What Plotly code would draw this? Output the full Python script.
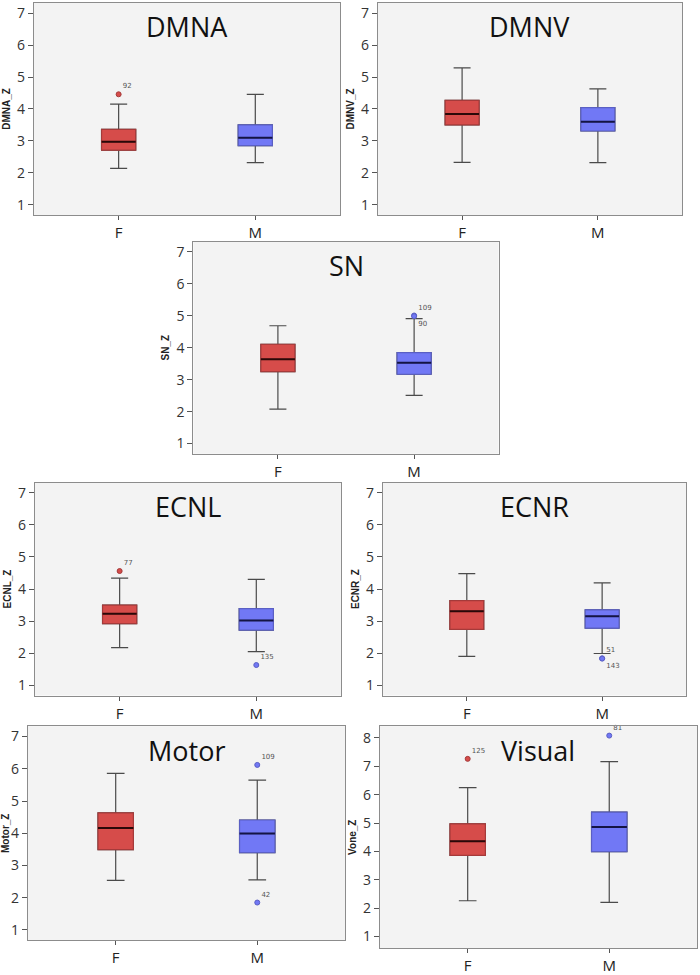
import plotly.graph_objects as go

# ---------------- data ----------------
panels = ["DMNA", "DMNV", "SN", "ECNL", "ECNR", "Motor", "Visual"]
y_titles = ["DMNA_Z", "DMNV_Z", "SN_Z", "ECNL_Z", "ECNR_Z", "Motor_Z", "Vone_Z"]
categories = ["F", "M"]

# box statistics per panel (order of `panels`)
lower_F  = [2.14, 2.33, 2.08, 2.17, 1.90, 2.54, 2.26]
q1_F     = [2.71, 3.50, 3.25, 2.92, 2.74, 3.49, 3.86]
median_F = [2.97, 3.84, 3.64, 3.23, 3.31, 4.16, 4.36]
q3_F     = [3.36, 4.27, 4.11, 3.50, 3.64, 4.63, 4.97]
upper_F  = [4.15, 5.29, 4.69, 4.34, 4.48, 5.86, 6.25]

lower_M  = [2.32, 2.32, 2.51, 2.05, 1.99, 2.55, 2.20]
q1_M     = [2.85, 3.31, 3.17, 2.72, 2.78, 3.40, 3.99]
median_M = [3.10, 3.60, 3.53, 3.02, 3.15, 3.99, 4.86]
q3_M     = [3.50, 4.04, 3.85, 3.39, 3.35, 4.41, 5.38]
upper_M  = [4.46, 4.63, 4.91, 4.30, 4.19, 5.65, 7.16]

# outliers: panel index, group, value, case label
out_panel = [0, 2, 2, 3, 3, 4, 4, 5, 5, 6, 6]
out_group = ["F", "M", "M", "F", "M", "M", "M", "M", "M", "F", "M"]
out_value = [4.46, 5.01, 4.99, 4.56, 1.63, 1.84, 1.83, 6.12, 1.85, 7.26, 8.08]
out_label = ["92", "109", "90", "77", "135", "51", "143", "109", "42", "125", "81"]

y_ranges = [[0.68, 7.32]] * 6 + [[0.59, 8.41]]
y_ticks = [list(range(1, 8))] * 6 + [list(range(1, 9))]

# panel rectangles in pixels (left, right, top, bottom)
W, H = 700, 975
boxes_px = [
    (32, 339, 3, 217),
    (377, 682, 3, 217),
    (192, 498, 244, 458),
    (33, 340, 487, 702),
    (382, 686, 487, 702),
    (26, 344, 733, 949),
    (379, 697, 733, 957),
]

# ---------------- style ----------------
FILL = {"F": "#d64c4a", "M": "#7178f5"}
EDGE = {"F": "#a53a3a", "M": "#5a5fc4"}
MED = {"F": "#2a0808", "M": "#141444"}
WHISK = "#4a4a4a"
FONT = "Open Sans"

fig = go.Figure()

stats = {
    "F": (lower_F, q1_F, median_F, q3_F, upper_F),
    "M": (lower_M, q1_M, median_M, q3_M, upper_M),
}

for i, name in enumerate(panels):
    xa = "x" if i == 0 else f"x{i+1}"
    ya = "y" if i == 0 else f"y{i+1}"
    for g in categories:
        lo, q1, md, q3, hi = (s[i] for s in stats[g])
        common = dict(x=[g], xaxis=xa, yaxis=ya, width=0.25, showlegend=False,
                      hoverinfo="skip", boxpoints=False)
        # whiskers
        fig.add_trace(go.Box(q1=[q1], median=[md], q3=[q3], lowerfence=[lo], upperfence=[hi],
                             fillcolor=FILL[g], line=dict(color=WHISK, width=1.2),
                             whiskerwidth=0.5, **common))
        # box body with coloured border
        fig.add_trace(go.Box(q1=[q1], median=[md], q3=[q3], lowerfence=[q1], upperfence=[q3],
                             fillcolor=FILL[g], line=dict(color=EDGE[g], width=1.2),
                             whiskerwidth=0, **common))
        # dark median line
        fig.add_trace(go.Box(q1=[md], median=[md], q3=[md], lowerfence=[md], upperfence=[md],
                             fillcolor="rgba(0,0,0,0)", line=dict(color=MED[g], width=2),
                             whiskerwidth=0, **common))

# outliers
for p, g, v, lab in zip(out_panel, out_group, out_value, out_label):
    xa = "x" if p == 0 else f"x{p+1}"
    ya = "y" if p == 0 else f"y{p+1}"
    # second of a stacked pair goes below
    pos = "top right"
    if lab in ("90", "143"):
        pos = "bottom right"
    fig.add_trace(go.Scatter(
        x=[g], y=[v], xaxis=xa, yaxis=ya, mode="markers+text",
        marker=dict(size=5, color=FILL[g], line=dict(color=EDGE[g], width=1)),
        text=[lab], textposition=pos,
        textfont=dict(size=7, color="#555555", family="DejaVu Sans"),
        showlegend=False, hoverinfo="skip", cliponaxis=False))

layout = dict(
    width=W, height=H,
    margin=dict(l=0, r=0, t=0, b=0),
    paper_bgcolor="white",
    plot_bgcolor="#f3f3f3",
    boxmode="overlay",
    font=dict(family=FONT, size=14, color="#333333"),
    annotations=[],
)

for i, name in enumerate(panels):
    l, r, t, b = boxes_px[i]
    suffix = "" if i == 0 else str(i + 1)
    xa = "x" if i == 0 else f"x{i+1}"
    ya = "y" if i == 0 else f"y{i+1}"
    layout["xaxis" + suffix] = dict(
        domain=[l / W, r / W], anchor=ya,
        type="category", categoryorder="array", categoryarray=categories,
        range=[-0.62, 1.62],
        showline=True, mirror=True, linecolor="#8c8c8c", linewidth=1.3,
        ticks="outside", ticklen=4, tickcolor="#555555",
        tickfont=dict(size=15, color="#222222", family=FONT),
        showgrid=False, zeroline=False, fixedrange=True,
    )
    layout["yaxis" + suffix] = dict(
        domain=[1 - b / H, 1 - t / H], anchor=xa,
        range=y_ranges[i], tickvals=y_ticks[i],
        showline=True, mirror=True, linecolor="#8c8c8c", linewidth=1.3,
        ticks="outside", ticklen=5, tickcolor="#555555",
        tickfont=dict(size=14, color="#333333", family=FONT),
        showgrid=False, zeroline=False, fixedrange=True,
        title=dict(text="<b>" + y_titles[i] + "</b>", standoff=4,
                   font=dict(size=10, color="#222222", family="Liberation Sans")),
    )
    layout["annotations"].append(dict(
        text=name, showarrow=False,
        x=(l + r) / 2 / W, y=1 - (t + 24) / H, xref="paper", yref="paper",
        xanchor="center", yanchor="middle",
        font=dict(size=27, color="#111111", family=FONT),
    ))

fig.update_layout(**layout)
fig.write_html("out.html", config={"displayModeBar": False})

# remove the default page margin so the figure fills the 700x975 window
with open("out.html", "r", encoding="utf-8") as fh:
    html = fh.read()
html = html.replace("<head>", "<head><style>html,body{margin:0;padding:0;overflow:hidden;}</style>", 1)
with open("out.html", "w", encoding="utf-8") as fh:
    fh.write(html)
